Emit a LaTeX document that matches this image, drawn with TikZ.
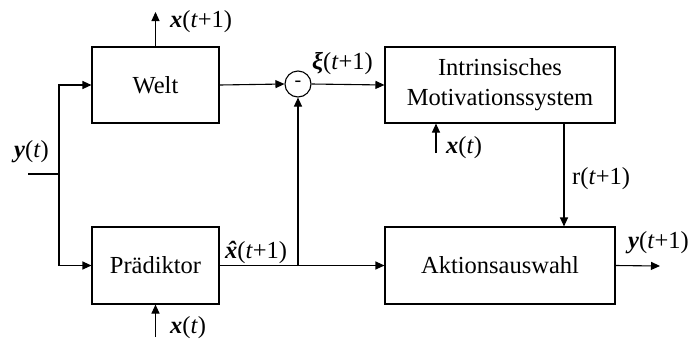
\documentclass[tikz,border=0pt]{standalone}
\usepackage{fontspec}
\setmainfont{Liberation Serif}
\usetikzlibrary{arrows.meta}
\newcommand{\bvx}{\textbf{\textit{x}}}
\newcommand{\bvy}{\textbf{\textit{y}}}
\newcommand{\bvxhat}{\textbf{\textit{\ooalign{x\cr\hidewidth ˆ\hidewidth\cr}}}}
\begin{document}
\begin{tikzpicture}[x=1pt,y=-1pt,
  font=\fontsize{24.5}{30}\selectfont,
  blk/.style={draw,line width=1.1pt,inner sep=0pt,align=center},
  ln/.style={line width=1.1pt},
  arr/.style={line width=1.1pt,-{Triangle[length=9pt,width=8pt]}},
  lbl/.style={inner sep=0pt,anchor=base west}]
\useasboundingbox (0,0) rectangle (689,341);
\node[blk,minimum width=127pt,minimum height=76pt] (welt) at (155.5,85) {Welt};
\node[blk,minimum width=127pt,minimum height=77pt] (praed) at (155.5,265.5) {Prädiktor};
\node[blk,minimum width=230pt,minimum height=76pt] (intr) at (500,85) {Intrinsisches\\Motivationssystem};
\node[blk,minimum width=230pt,minimum height=77pt] (akt) at (500,265.5) {Aktionsauswahl};
\node[draw,circle,line width=1.1pt,minimum size=26pt,inner sep=0pt,font=\fontsize{20}{20}\selectfont] (sum) at (298,84) {-};
\coordinate (yin) at (28,174);
\coordinate (split) at (59,174);
\coordinate (xout) at (155.5,12);
\coordinate (junc) at (298,266);
\coordinate (xin1) at (436,153);
\coordinate (xin2) at (155.5,337);
\coordinate (rx) at (564,0);
\coordinate (yout) at (660,266);
\draw[ln] (yin) -- (split);
\draw[arr] (split) |- (welt.west);
\draw[arr] (split) |- (praed.west);
\draw[arr] (welt.north) -- (xout);
\draw[arr] (welt.east) -- (sum.west);
\draw[arr] (sum.east) -- (intr.west);
\draw[arr] (praed.east) -- (akt.west);
\draw[arr] (junc) -- (sum.south);
\draw[arr] (xin1) -- (xin1 |- intr.south);
\draw[arr] (xin2) -- (praed.south);
\draw[arr] (rx |- intr.south) -- (rx |- akt.north);
\draw[arr] (akt.east) -- (yout);
\node[lbl] (l1) at (170,27) {\bvx(\textit{t}+1)};
\node[lbl] (l2) at (312,69) {\textbf{\textit{ξ}}(\textit{t}+1)};
\node[lbl] (l3) at (14,157) {\bvy(\textit{t})};
\node[lbl] (l4) at (225,258) {\bvxhat(\textit{t}+1)};
\node[lbl] (l5) at (170,333) {\bvx(\textit{t})};
\node[lbl] (l6) at (446,153) {\bvx(\textit{t})};
\node[lbl] (l7) at (572,184) {r(\textit{t}+1)};
\node[lbl] (l8) at (628,248) {\bvy(\textit{t}+1)};
\end{tikzpicture}
\end{document}
